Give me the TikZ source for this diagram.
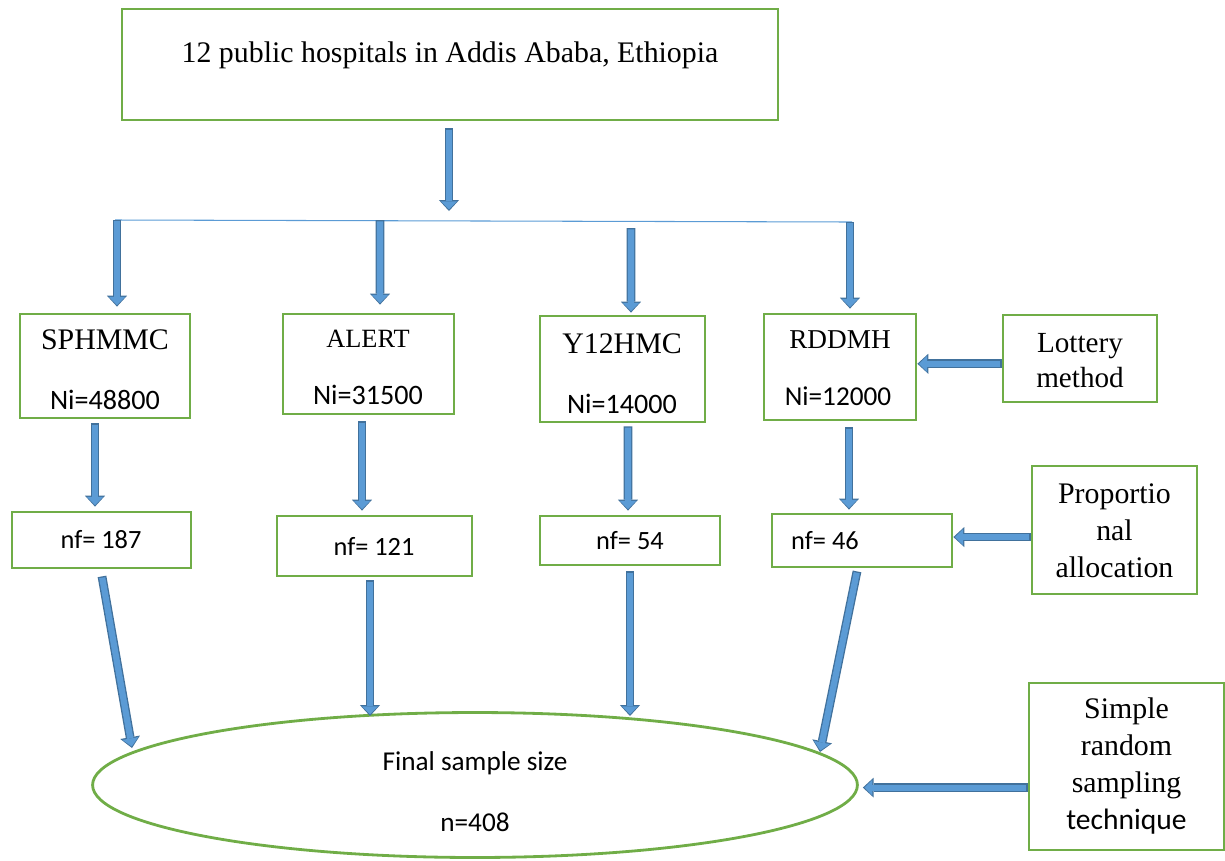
\documentclass[tikz,border=0pt]{standalone}
\usepackage{fontspec}
\setmainfont{Liberation Serif}
\newfontfamily\calib{Carlito}
\usetikzlibrary{arrows.meta,calc,shapes.geometric}
\definecolor{boxgreen}{HTML}{70AD47}
\definecolor{afill}{HTML}{5B9BD5}
\definecolor{adark}{HTML}{41719C}
\tikzset{
  box/.style={draw=boxgreen, line width=1.6pt, rectangle, inner sep=0pt, fill=white},
  ser/.style={font=\fontsize{17}{21}\selectfont, align=center, inner sep=0pt},
  san/.style={font=\calib\fontsize{16}{20}\selectfont, align=center, inner sep=0pt},
  barrow/.style={draw=afill, line width=3.5pt,
    -{Triangle[length=4.6pt,width=9.2pt,line width=0pt]},
    shorten >=0.9pt, shorten <=0.75pt,
    preaction={draw=adark, line width=5pt, shorten >=0pt, shorten <=0pt,
      -{Triangle[length=6.2pt,width=11.4pt,line width=0pt]}}},
}
\begin{document}
\begin{tikzpicture}[x=0.02cm, y=-0.02cm]
\useasboundingbox (0,0) rectangle (1225,860);

% boxes
\node[box, minimum width=13.12cm, minimum height=2.22cm] (top) at (450,64.5) {};
\node[box, minimum width=3.4cm, minimum height=2.08cm] (sph) at (105,366) {};
\node[box, minimum width=3.42cm, minimum height=2.0cm] (alert) at (368.5,364) {};
\node[box, minimum width=3.3cm, minimum height=2.12cm] (y12) at (622.5,369) {};
\node[box, minimum width=3.04cm, minimum height=2.12cm] (rdd) at (840,367) {};
\node[box, minimum width=3.08cm, minimum height=1.74cm] (lot) at (1080,358.5) {};
\node[box, minimum width=3.58cm, minimum height=1.12cm] (nf1) at (101.5,540) {};
\node[box, minimum width=3.9cm, minimum height=1.2cm] (nf2) at (374.5,546) {};
\node[box, minimum width=3.6cm, minimum height=0.98cm] (nf3) at (630,540.5) {};
\node[box, minimum width=3.6cm, minimum height=1.06cm] (nf4) at (862,540.5) {};
\node[box, minimum width=3.3cm, minimum height=2.56cm] (prop) at (1114.5,530) {};
\node[box, minimum width=3.9cm, minimum height=3.34cm] (srs) at (1126.5,766.5) {};
\node[draw=boxgreen, line width=1.6pt, ellipse, inner sep=0pt,
      minimum width=15.3cm, minimum height=2.9cm] (ell) at (475,785) {};

% texts
\node[ser] (topT) at (450,55) {12 public hospitals in Addis Ababa, Ethiopia};
\node[ser] (sphT) at (105,340) {SPHMMC};
\node[san] (sphN) at (105,400) {Ni=48800};
\node[ser, font=\fontsize{15}{18}\selectfont] (alertT) at (368,339) {ALERT};
\node[san] (alertN) at (368,395) {Ni=31500};
\node[ser] (y12T) at (622,344) {Y12HMC};
\node[san] (y12N) at (622,404) {Ni=14000};
\node[ser, font=\fontsize{15.5}{18}\selectfont] (rddT) at (840,340) {RDDMH};
\node[san, font=\calib\fontsize{15.5}{18}\selectfont] (rddN) at (838,396) {Ni=12000};
\node[ser, font=\fontsize{16.6}{20}\selectfont] (lotT) at (1080,361) {Lottery\\method};
\node[san, font=\calib\fontsize{15}{18}\selectfont] (nf1T) at (101,540) {nf= 187};
\node[san, font=\calib\fontsize{15}{18}\selectfont] (nf2T) at (374,546) {nf= 121};
\node[san, font=\calib\fontsize{15}{18}\selectfont] (nf3T) at (630,541) {nf= 54};
\node[san, font=\calib\fontsize{15}{18}\selectfont] (nf4T) at (825,541) {nf= 46};
\node[ser] (propT) at (1114.5,531) {Proportio\\nal\\allocation};
\node[ser] (srsT) at (1126.5,766) {Simple\\random\\sampling\\{\calib\fontsize{16.8}{21}\selectfont technique}};
\node[san, font=\calib\fontsize{15.5}{18}\selectfont] (finT) at (475,763) {Final sample size};
\node[san, font=\calib\fontsize{15.5}{18}\selectfont] (nT) at (475,822) {n=408};

% distribution line
\coordinate (hl) at (115,220);
\coordinate (hr) at (852,222);
\draw[afill, line width=0.6pt] (hl) -- (hr);
\coordinate (s0) at (449,211);
\coordinate (s1) at (117,220);
\coordinate (s2) at (380,220);
\coordinate (s3) at (631,228);
\coordinate (s4) at (850,222);

\draw[barrow] ($(top.south)+(-1,7)$) -- (s0);
\draw[barrow] (s1) -- ($(sph.north)+(12,-6)$);
\draw[barrow] (s2) -- ($(alert.north)+(11.5,-8)$);
\draw[barrow] (s3) -- ($(y12.north)+(8.5,-2)$);
\draw[barrow] (s4) -- ($(rdd.north)+(10,-4)$);

\draw[barrow] ($(sph.south)+(-10,4)$) -- ($(nf1.north)+(-6.5,-4)$);
\draw[barrow] ($(alert.south)+(-6.5,6)$) -- ($(nf2.north)+(-12.5,-4)$);
\draw[barrow] ($(y12.south)+(5.5,3)$) -- ($(nf3.north)+(-2,-4)$);
\draw[barrow] ($(rdd.south)+(9,6)$) -- ($(nf4.north)+(-13,-3)$);

\coordinate (e1) at (132,748);
\coordinate (e2) at (370,716);
\coordinate (e3) at (630,716);
\coordinate (e4) at (820,752);
\draw[barrow] ($(nf1.south)+(0.5,7)$) -- (e1);
\draw[barrow] ($(nf2.south)+(-4.5,3)$) -- (e2);
\draw[barrow] ($(nf3.south)+(0,5)$) -- (e3);
\draw[barrow] ($(nf4.south)+(-5,3)$) -- (e4);

\draw[barrow] ([yshift=-3pt]lot.west) -- ([yshift=-3pt]lot.west -| rdd.east);
\draw[barrow] ([yshift=-4pt]prop.west) -- ([yshift=-4pt]prop.west -| nf4.east);
\draw[barrow] ([yshift=-12pt]srs.west) -- ($([yshift=-12pt]srs.west -| ell.east)+(4,0)$);
\end{tikzpicture}
\end{document}
